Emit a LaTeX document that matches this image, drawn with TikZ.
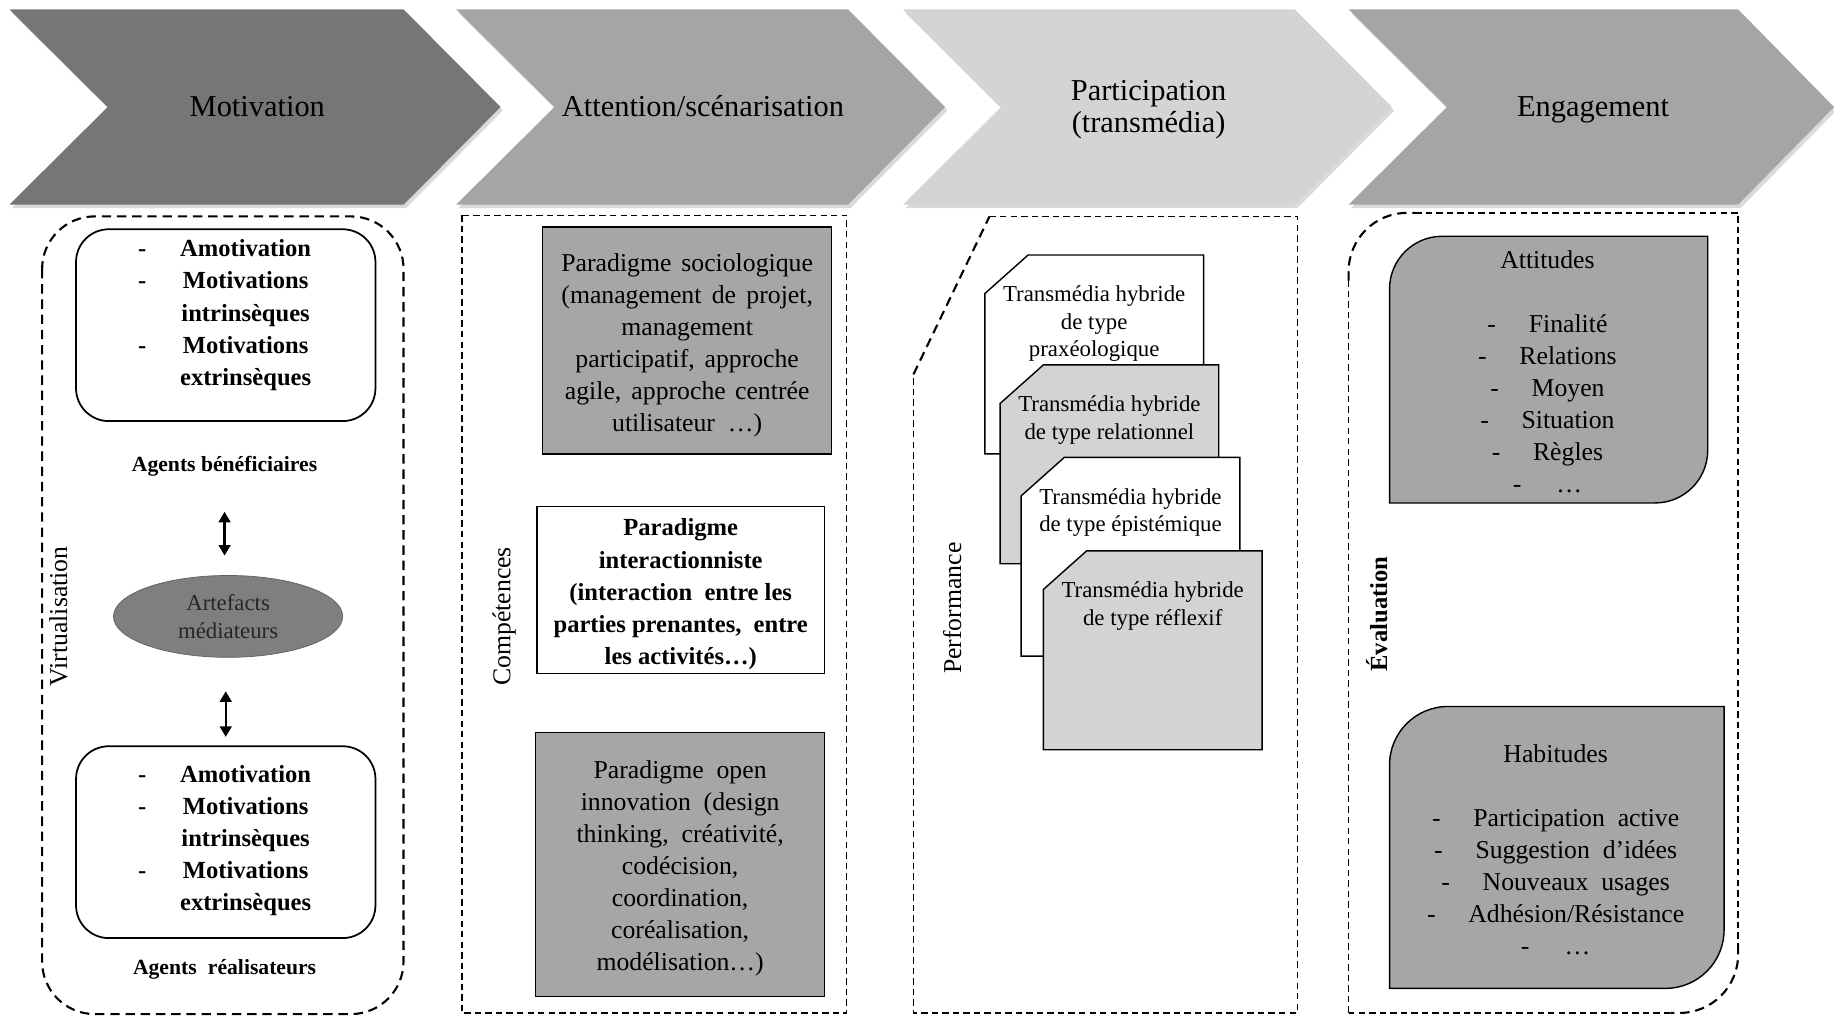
\documentclass[tikz,border=0pt]{standalone}
\usepackage{fontspec}
\setmainfont{Liberation Serif}
\usetikzlibrary{shapes.geometric,arrows.meta}
\definecolor{cdark}{HTML}{767676}
\definecolor{cmid}{HTML}{A5A5A5}
\definecolor{clight}{HTML}{D4D4D4}
\definecolor{boxgray}{HTML}{A6A6A6}
\definecolor{snipgray}{HTML}{D3D3D3}
\definecolor{ellgray}{HTML}{7F7F7F}
\definecolor{txtgray}{HTML}{262626}
\definecolor{shadowgray}{HTML}{DADADA}
\newcommand\jl[2]{\makebox[#1pt][s]{#2}}
\newcommand\snipshape[3]{\filldraw[fill=#3, draw=black, line width=1.2] (#1+37,#2) -- (#1+187,#2) -- (#1+187,#2+170) -- (#1,#2+170) -- (#1,#2+33) -- cycle;}
\begin{document}
\begin{tikzpicture}[x=1pt,y=-1pt,
  every node/.style={inner sep=0pt, outer sep=0pt},
  title/.style={font=\fontsize{26}{27.5}\selectfont, align=center},
  txt/.style={font=\fontsize{22}{27.4}\selectfont, align=center},
  btxt/.style={font=\bfseries\fontsize{21}{27.4}\selectfont, align=center},
  agent/.style={font=\bfseries\fontsize{18.5}{22}\selectfont},
  sidelabel/.style={font=\fontsize{22}{24}\selectfont, rotate=90},
  trans/.style={font=\fontsize{19.5}{23.5}\selectfont, align=center},
  gbox/.style={draw, fill=boxgray, line width=1.2},
  wbox/.style={draw, fill=white, line width=1.2},
  motbox/.style={draw, rounded corners=28, line width=1.5, minimum width=256, minimum height=164},
  dashA/.style={line width=1.8, dash pattern=on 8pt off 5pt},
  dashB/.style={line width=1.1, dash pattern=on 5.5pt off 3.5pt},
  dbl/.style={line width=2, {Triangle[length=9pt,width=10pt]}-{Triangle[length=9pt,width=10pt]}}
]
\useasboundingbox (0,0) rectangle (1568,870);

% chevrons
\begin{scope}[shift={(2,3)}]
\fill[shadowgray] (8,8)--(345,8)--(428,91.5)--(345,175)--(8,175)--(92,91.5)--cycle;
\fill[shadowgray] (390,8)--(725,8)--(808,91.5)--(725,175)--(390,175)--(474,91.5)--cycle;
\fill[shadowgray] (772,8)--(1107,8)--(1190,91.5)--(1107,175)--(772,175)--(856,91.5)--cycle;
\fill[shadowgray] (1153,8)--(1486,8)--(1568,91.5)--(1486,175)--(1153,175)--(1237,91.5)--cycle;
\end{scope}
\fill[cdark] (8,8)--(345,8)--(428,91.5)--(345,175)--(8,175)--(92,91.5)--cycle;
\fill[cmid] (390,8)--(725,8)--(808,91.5)--(725,175)--(390,175)--(474,91.5)--cycle;
\fill[clight] (772,8)--(1107,8)--(1190,91.5)--(1107,175)--(772,175)--(856,91.5)--cycle;
\fill[cmid] (1153,8)--(1486,8)--(1568,91.5)--(1486,175)--(1153,175)--(1237,91.5)--cycle;
\node[title] (t1) at (220,91) {Motivation};
\node[title] (t2) at (601,91) {Attention/scénarisation};
\node[title] (t3) at (982,94) {Participation\\(transmédia)};
\node[title] (t4) at (1362,94) {Engagement};

% ---- panel 1 : Motivation
\draw[dashA, rounded corners=45] (36,185) rectangle (345,867);
\node[motbox] (mtop) at (193,278) {};
\node[font=\bfseries\fontsize{21}{27.4}\selectfont] (mtoptxt) at (192,269)
  {\begin{tabular}{@{}c@{\hspace{29pt}}c@{}}-&Amotivation\\-&Motivations\\&intrinsèques\\-&Motivations\\&extrinsèques\end{tabular}};
\node[agent] (benef) at (192,399) {Agents bénéficiaires};
\node[ellipse, fill=ellgray, draw=ellgray!75!black, line width=0.6, minimum width=196, minimum height=70,
      font=\fontsize{19.5}{24}\selectfont, text=txtgray, align=center] (art) at (195,527) {Artefacts\\médiateurs};
\node[motbox] (mbot) at (193,720) {};
\node[font=\bfseries\fontsize{21}{27.4}\selectfont] (mbottxt) at (192,718)
  {\begin{tabular}{@{}c@{\hspace{29pt}}c@{}}-&Amotivation\\-&Motivations\\&intrinsèques\\-&Motivations\\&extrinsèques\end{tabular}};
\node[agent] (real) at (192,829) {Agents\hspace{5pt} réalisateurs};
\draw[dbl, shorten <=30pt, shorten >=17pt] (benef.south) -- (benef.south |- art.north);
\draw[dbl, shorten <=29pt, shorten >=8pt] (mbot.north |- art.south) -- (mbot.north);
\node[sidelabel] (virt) at (50,527) {Virtualisation};

% ---- panel 2 : Attention
\draw[dashB] (395,184) rectangle (724,866);
\node[sidelabel] (comp) at (431,527) {Compétences};
\node[gbox, minimum width=247, minimum height=194] (soc) at (587.5,291) {};
\node[txt] (soctxt) at (587.5,295)
  {\jl{215}{Paradigme sociologique}\\\jl{215}{(management de projet,}\\management\\\jl{191}{participatif, approche}\\\jl{209}{agile, approche centrée}\\utilisateur\ \ …)};
\node[wbox, minimum width=246, minimum height=143] (inter) at (582,504.5) {};
\node[btxt] (intertxt) at (582,508)
  {Paradigme\\interactionniste\\(interaction\ \ entre les\\parties prenantes,\ \ entre\\les activités…)};
\node[gbox, minimum width=247, minimum height=226] (open) at (581.5,739) {};
\node[txt] (opentxt) at (581.5,742.5)
  {Paradigme\ \ open\\innovation\ \ (design\\thinking,\ \ créativité,\\codécision,\\coordination,\\coréalisation,\\modélisation…)};

% ---- panel 3 : Participation
\draw[dashB] (846,185) -- (1109,185) -- (1109,866) -- (781,866) -- (781,320);
\draw[dashA] (781,320) -- (846,185);
\node[sidelabel] (perf) at (814,520) {Performance};
\snipshape{842}{218}{white}
\node[trans] (tr1) at (935.5,277) {Transmédia hybride\\de type\\praxéologique};
\snipshape{855}{312}{snipgray}
\node[trans] (tr2) at (948.5,359) {Transmédia hybride\\de type relationnel};
\snipshape{873}{391}{white}
\node[trans] (tr3) at (966.5,438) {Transmédia hybride\\de type épistémique};
\snipshape{892}{471}{snipgray}
\node[trans] (tr4) at (985.5,518) {Transmédia hybride\\de type réflexif};

% ---- panel 4 : Engagement
\draw[dashB] (1153,866) -- (1153,232);
\draw[dashA] (1153,240) -- (1153,232) arc[start angle=180, end angle=270, radius=50] -- (1210,182);
\draw[dashB] (1210,182) -- (1486,182) -- (1486,810);
\draw[dashA] (1486,808) -- (1486,816) arc[start angle=0, end angle=90, radius=50] -- (1428,866);
\draw[dashB] (1428,866) -- (1153,866);
\node[sidelabel, font=\bfseries\fontsize{21}{24}\selectfont] (eval) at (1177,525) {Évaluation};
\filldraw[fill=boxgray, draw=black, line width=1.2] (1188,430) -- (1188,247) arc[start angle=180, end angle=270, radius=45] -- (1460,202) -- (1460,385) arc[start angle=0, end angle=90, radius=45] -- cycle;
\node[txt] (att) at (1323,318) {Attitudes\\[27.4pt]-\hspace{28pt}Finalité\\-\hspace{28pt}Relations\\-\hspace{28pt}Moyen\\-\hspace{28pt}Situation\\-\hspace{28pt}Règles\\-\hspace{30pt}…};
\filldraw[fill=boxgray, draw=black, line width=1.2] (1188,845) -- (1188,654) arc[start angle=180, end angle=270, radius=50] -- (1474,604) -- (1474,795) arc[start angle=0, end angle=90, radius=50] -- cycle;
\node[txt] (hab) at (1330,726.5) {Habitudes\\[27.4pt]-\hspace{28pt}Participation\ \ active\\-\hspace{28pt}Suggestion\ \ d’idées\\-\hspace{28pt}Nouveaux\ \ usages\\-\hspace{28pt}Adhésion/Résistance\\-\hspace{30pt}…};
\end{tikzpicture}
\end{document}
